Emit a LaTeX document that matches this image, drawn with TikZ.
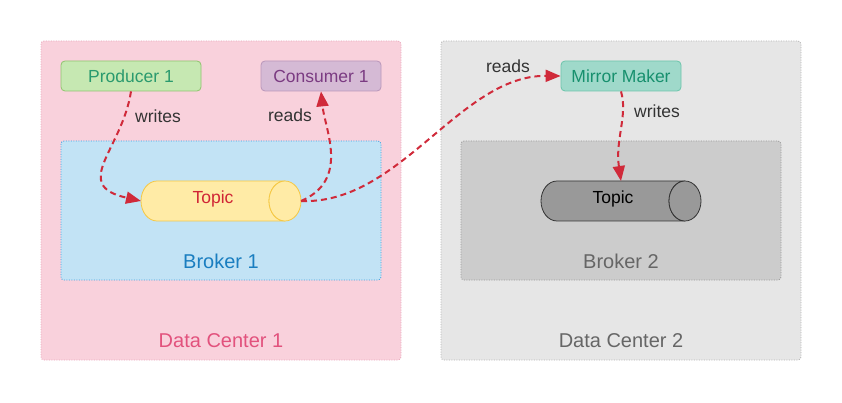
\documentclass[tikz,border=0pt]{standalone}
\usepackage{fontspec}
\setmainfont{Liberation Sans}
\usetikzlibrary{arrows.meta}
\definecolor{dcpink}{HTML}{F9D1DC}
\definecolor{dcpinkb}{HTML}{E8A8BC}
\definecolor{brblue}{HTML}{C2E3F5}
\definecolor{brblueb}{HTML}{3FA2E0}
\definecolor{prodf}{HTML}{C6E8B2}
\definecolor{prodb}{HTML}{8FC46E}
\definecolor{prodt}{HTML}{2A9A6E}
\definecolor{consf}{HTML}{D5BAD5}
\definecolor{consb}{HTML}{B996BA}
\definecolor{const}{HTML}{7B3B82}
\definecolor{mmf}{HTML}{9FD9CA}
\definecolor{mmb}{HTML}{6CC5AB}
\definecolor{mmt}{HTML}{17906E}
\definecolor{topf}{HTML}{FFEBA6}
\definecolor{topb}{HTML}{F5C844}
\definecolor{topt}{HTML}{D02535}
\definecolor{dcgray}{HTML}{E6E6E6}
\definecolor{dcgrayb}{HTML}{B3B3B3}
\definecolor{brgray}{HTML}{CCCCCC}
\definecolor{brgrayb}{HTML}{999999}
\definecolor{arr}{HTML}{D02A3A}
\definecolor{lbl}{HTML}{333333}
\definecolor{dclbl}{HTML}{E2527D}
\definecolor{brlbl}{HTML}{1A7EC0}
\definecolor{graylbl}{HTML}{666666}
\tikzset{
  container/.style={line width=0.8pt, dash pattern=on 1pt off 1.5pt, rounded corners=3pt},
  smallbox/.style={draw, line width=0.8pt, rounded corners=4pt, minimum width=140pt, minimum height=30pt, inner sep=0pt, font=\fontsize{17.5}{20}\selectfont},
  biglbl/.style={font=\fontsize{20}{24}\selectfont},
  edgelbl/.style={text=lbl, font=\fontsize{17.5}{20}\selectfont},
  flow/.style={draw=arr, line width=2pt, dash pattern=on 6pt off 4pt, -{Triangle[length=15pt,width=12pt]}},
}
\begin{document}
\begin{tikzpicture}[x=1pt,y=-1pt]
\useasboundingbox (0,0) rectangle (842,403);
% containers
\draw[container, draw=dcpinkb, fill=dcpink] (41,41) rectangle (401,360);
\draw[container, draw=dcgrayb, fill=dcgray] (441,41) rectangle (801,360);
\draw[container, draw=brblueb, fill=brblue] (61,141) rectangle (381,280);
\draw[container, draw=brgrayb, fill=brgray] (461,141) rectangle (781,280);
\node[biglbl, text=dclbl] (dc1) at (221,341) {Data Center 1};
\node[biglbl, text=graylbl] (dc2) at (621,341) {Data Center 2};
\node[biglbl, text=brlbl] (b1) at (221,261) {Broker 1};
\node[biglbl, text=graylbl] (b2) at (621,261) {Broker 2};
% boxes
\node[smallbox, fill=prodf, draw=prodb, text=prodt] (prod) at (131,76) {Producer 1};
\node[smallbox, fill=consf, draw=consb, text=const, minimum width=120pt] (cons) at (321,76) {Consumer 1};
\node[smallbox, fill=mmf, draw=mmb, text=mmt, minimum width=120pt] (mm) at (621,76) {Mirror Maker};
% topic 1
\draw[line width=0.8pt, draw=topb, fill=topf] (285,181) -- (157,181) arc[start angle=90, end angle=270, x radius=16, y radius=-20] -- (285,221) arc[start angle=270, end angle=90, x radius=16, y radius=-20];
\draw[line width=0.8pt, draw=topb, fill=topf] (285,201) ellipse[x radius=16, y radius=20];
\node[text=topt, font=\fontsize{17.5}{20}\selectfont, minimum width=160pt, minimum height=40pt, inner sep=0pt] (t1) at (213,199) {Topic};
\coordinate (t1w) at (141,201);
\coordinate (t1e) at (301,201);
% topic 2
\draw[line width=0.8pt, draw=black!80, fill=black!40] (685,181) -- (557,181) arc[start angle=90, end angle=270, x radius=16, y radius=-20] -- (685,221) arc[start angle=270, end angle=90, x radius=16, y radius=-20];
\draw[line width=0.8pt, draw=black!80, fill=black!40] (685,201) ellipse[x radius=16, y radius=20];
\node[text=black, font=\fontsize{17.5}{20}\selectfont] (t2) at (613,199) {Topic};
\coordinate (t2n) at (621,181);
% labels
\node[edgelbl] (w1) at (158,116) {writes};
\node[edgelbl] (r1) at (290,115) {reads};
\node[edgelbl] (r2) at (508,66) {reads};
\node[edgelbl] (w2) at (657,111) {writes};
% flows
\draw[flow] (prod.south) .. controls (122,150) and (70,185) .. (t1w);
\draw[flow] (t1e) .. controls (350,180) and (325,130) .. (cons.south);
\draw[flow] (t1e) .. controls (400,205) and (460,75) .. (mm.west);
\draw[flow] (mm.south) .. controls (628,115) and (615,140) .. (t2n);
\end{tikzpicture}
\end{document}
